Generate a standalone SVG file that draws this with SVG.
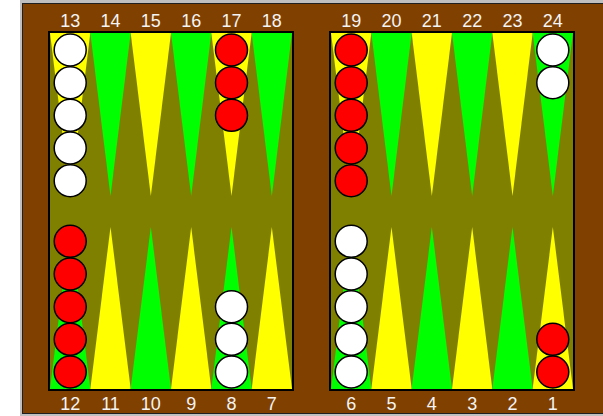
<svg xmlns="http://www.w3.org/2000/svg" width="603" height="416" viewBox="0 0 603 416">
<style>
.lbl{font-family:"Liberation Sans",Arial,sans-serif;font-size:18px;fill:#f4f4f4;text-anchor:middle}
.y{fill:#ffff00}.g{fill:#00ff00}
.w{fill:#ffffff;stroke:#000;stroke-width:1.5}
.r{fill:#ff0000;stroke:#000;stroke-width:1.5}
.brd{fill:#808000;stroke:#000;stroke-width:2}
</style>
<rect x="0" y="0" width="603" height="416" fill="#ffffff"/>
<rect x="20" y="0" width="583" height="416" fill="#c0c0c0"/>
<rect x="22.5" y="3.5" width="590" height="410" fill="#804000" stroke="#202020" stroke-width="1"/>
<g id="board-left">
<rect class="brd" x="49" y="32" width="244" height="358"/>
<polygon class="y" points="50,33 90.33,33 70.17,196"/>
<polygon class="g" points="90.33,33 130.67,33 110.5,196"/>
<polygon class="y" points="130.67,33 171,33 150.83,196"/>
<polygon class="g" points="171,33 211.33,33 191.17,196"/>
<polygon class="y" points="211.33,33 251.67,33 231.5,196"/>
<polygon class="g" points="251.67,33 292,33 271.83,196"/>
<polygon class="g" points="50,389 90.33,389 70.17,227"/>
<polygon class="y" points="90.33,389 130.67,389 110.5,227"/>
<polygon class="g" points="130.67,389 171,389 150.83,227"/>
<polygon class="y" points="171,389 211.33,389 191.17,227"/>
<polygon class="g" points="211.33,389 251.67,389 231.5,227"/>
<polygon class="y" points="251.67,389 292,389 271.83,227"/>
</g>
<g id="board-right">
<rect class="brd" x="330" y="32" width="244" height="358"/>
<polygon class="y" points="331,33 371.33,33 351.17,196"/>
<polygon class="g" points="371.33,33 411.67,33 391.5,196"/>
<polygon class="y" points="411.67,33 452,33 431.83,196"/>
<polygon class="g" points="452,33 492.33,33 472.17,196"/>
<polygon class="y" points="492.33,33 532.67,33 512.5,196"/>
<polygon class="g" points="532.67,33 573,33 552.83,196"/>
<polygon class="g" points="331,389 371.33,389 351.17,227"/>
<polygon class="y" points="371.33,389 411.67,389 391.5,227"/>
<polygon class="g" points="411.67,389 452,389 431.83,227"/>
<polygon class="y" points="452,389 492.33,389 472.17,227"/>
<polygon class="g" points="492.33,389 532.67,389 512.5,227"/>
<polygon class="y" points="532.67,389 573,389 552.83,227"/>
</g>
<g id="checkers">
<g id="point13"><circle class="w" cx="70.2" cy="50" r="16"/><circle class="w" cx="70.2" cy="82.7" r="16"/><circle class="w" cx="70.2" cy="115.3" r="16"/><circle class="w" cx="70.2" cy="148" r="16"/><circle class="w" cx="70.2" cy="180.7" r="16"/></g>
<g id="point17"><circle class="r" cx="231.5" cy="50" r="16"/><circle class="r" cx="231.5" cy="82.7" r="16"/><circle class="r" cx="231.5" cy="115.3" r="16"/></g>
<g id="point19"><circle class="r" cx="351.2" cy="50" r="16"/><circle class="r" cx="351.2" cy="82.7" r="16"/><circle class="r" cx="351.2" cy="115.3" r="16"/><circle class="r" cx="351.2" cy="148" r="16"/><circle class="r" cx="351.2" cy="180.7" r="16"/></g>
<g id="point24"><circle class="w" cx="552.8" cy="50" r="16"/><circle class="w" cx="552.8" cy="82.7" r="16"/></g>
<g id="point12"><circle class="r" cx="70.2" cy="241.3" r="16"/><circle class="r" cx="70.2" cy="274" r="16"/><circle class="r" cx="70.2" cy="306.7" r="16"/><circle class="r" cx="70.2" cy="339.3" r="16"/><circle class="r" cx="70.2" cy="372" r="16"/></g>
<g id="point8"><circle class="w" cx="231.5" cy="306.7" r="16"/><circle class="w" cx="231.5" cy="339.3" r="16"/><circle class="w" cx="231.5" cy="372" r="16"/></g>
<g id="point6"><circle class="w" cx="351.2" cy="241.3" r="16"/><circle class="w" cx="351.2" cy="274" r="16"/><circle class="w" cx="351.2" cy="306.7" r="16"/><circle class="w" cx="351.2" cy="339.3" r="16"/><circle class="w" cx="351.2" cy="372" r="16"/></g>
<g id="point1"><circle class="r" cx="552.8" cy="339.3" r="16"/><circle class="r" cx="552.8" cy="372" r="16"/></g>
</g>
<g id="labels">
<text class="lbl" x="70.2" y="26.5">13</text>
<text class="lbl" x="110.5" y="26.5">14</text>
<text class="lbl" x="150.8" y="26.5">15</text>
<text class="lbl" x="191.2" y="26.5">16</text>
<text class="lbl" x="231.5" y="26.5">17</text>
<text class="lbl" x="271.8" y="26.5">18</text>
<text class="lbl" x="351.2" y="26.5">19</text>
<text class="lbl" x="391.5" y="26.5">20</text>
<text class="lbl" x="431.8" y="26.5">21</text>
<text class="lbl" x="472.2" y="26.5">22</text>
<text class="lbl" x="512.5" y="26.5">23</text>
<text class="lbl" x="552.8" y="26.5">24</text>
<text class="lbl" x="70.2" y="410">12</text>
<text class="lbl" x="110.5" y="410">11</text>
<text class="lbl" x="150.8" y="410">10</text>
<text class="lbl" x="191.2" y="410">9</text>
<text class="lbl" x="231.5" y="410">8</text>
<text class="lbl" x="271.8" y="410">7</text>
<text class="lbl" x="351.2" y="410">6</text>
<text class="lbl" x="391.5" y="410">5</text>
<text class="lbl" x="431.8" y="410">4</text>
<text class="lbl" x="472.2" y="410">3</text>
<text class="lbl" x="512.5" y="410">2</text>
<text class="lbl" x="552.8" y="410">1</text>
</g>
</svg>
